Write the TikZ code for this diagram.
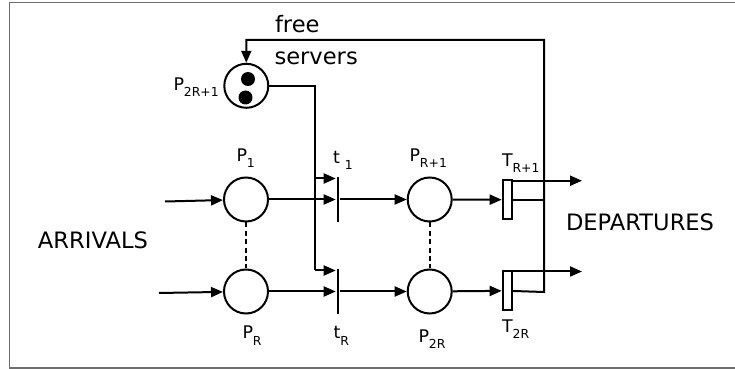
\documentclass[tikz,border=0pt]{standalone}
\usepackage{fontspec}
\setmainfont{DejaVu Sans}
\usetikzlibrary{arrows.meta,calc}

\definecolor{framegray}{HTML}{6E6E6E}
\newcommand{\lbl}[2]{{\fontsize{8.7}{10}\selectfont #1}\raisebox{-3pt}{\fontsize{6.2}{7}\selectfont #2}}

\begin{document}
\begin{tikzpicture}[
    x=0.5pt, y=-0.5pt,
    line width=1pt,
    place/.style={circle, draw, fill=white, minimum size=22pt, inner sep=0pt},
    token/.style={circle, fill=black, minimum size=7pt, inner sep=0pt},
    bar/.style={rectangle, fill=black, minimum width=1pt, minimum height=22.5pt, inner sep=0pt},
    timed/.style={rectangle, draw, fill=white, minimum width=4.5pt, minimum height=19.3pt, inner sep=0pt},
    lab/.style={inner sep=0pt, anchor=base west},
    big/.style={inner sep=0pt, anchor=base west, font=\fontsize{11.3}{13}\selectfont},
    arrow/.style={-{Triangle[length=6pt,width=5pt]}},
    link/.style={dash pattern=on 2.5pt off 1.7pt}
]
\useasboundingbox (0,0) rectangle (735,369);

% Frame
\draw[framegray, line width=0.85pt] (735,2.5) -- (9.5,2.5) -- (9.5,368) -- (735,368);

% Places
\node[place] (pfree) at (246.3,85.8) {};
\node[token] (tok1) at (248,79) {};
\node[token] (tok2) at (245.5,97.5) {};
\node[place] (p1) at (246,199.5) {};
\node[place] (pR) at (246,291.5) {};
\node[place] (pR1) at (429.7,199.5) {};
\node[place] (p2R) at (429.7,291.5) {};

% Transitions
\node[bar] (t1) at (337.7,199.5) {};
\node[bar] (tR) at (337.7,291.5) {};
\node[timed] (T1) at (507.2,199.7) {};
\node[timed] (T2) at (507.2,290.8) {};

% Labels
\node[lab] (pfreelab) at (172.5,91) {\lbl{P}{2R+1}};
\node[lab] (p1lab) at (235.5,162) {\lbl{P}{1}};
\node[lab] (pRlab) at (241.5,339) {\lbl{P}{R}};
\node[lab] (pR1lab) at (408.5,162) {\lbl{P}{R+1}};
\node[lab] (p2Rlab) at (417.5,343) {\lbl{P}{2R}};
\node[lab] (t1lab) at (332,163.3) {\lbl{t\hspace{2.5pt}}{1}};
\node[lab] (tRlab) at (332.5,339) {\lbl{t}{R}};
\node[lab] (T1lab) at (501,166.7) {\lbl{T}{R+1}};
\node[lab] (T2lab) at (501,332.7) {\lbl{T}{2R}};

\node[big] (free) at (274,33) {free};
\node[big] (servers) at (273.5,65) {servers};
\node[big] (arrivals) at (37,249) {ARRIVALS};
\node[big] (departures) at (565,230.7) {DEPARTURES};

% Helper points
\coordinate (in1) at (165,201.5);
\coordinate (inR) at (159,293);
\coordinate (fork) at (315,85.8);
\coordinate (fork1) at (315,178.5);
\coordinate (forkR) at (315,270.5);
\coordinate (back) at (544,292);
\coordinate (backtop) at (544,40);
\coordinate (dep1) at (582,180.7);
\coordinate (dep2) at (582,271.5);

% Arcs
\draw[arrow] (in1) -- (p1);
\draw[arrow] (inR) -- (pR);
\draw[link] (p1) -- (pR);
\draw[link] (pR1) -- (p2R);

\draw[arrow] (p1) -- (t1);
\draw[arrow] (pR) -- (tR);
\draw[arrow] (t1) -- (pR1);
\draw[arrow] (tR) -- (p2R);
\draw[arrow] (pR1) -- (T1);
\draw[arrow] (p2R) -- (T2);

\draw (pfree) -- (fork) -- (forkR);
\draw[arrow] (fork1) -- (fork1 -| t1.west);
\draw[arrow] (forkR) -- (forkR -| tR.west);

\draw[arrow] (T2) -- (back) -- (backtop) -| (pfree);
\draw (T1) -- (T1 -| back);

\draw[arrow] (T1.east |- dep1) -- (dep1);
\draw[arrow] (T2.east |- dep2) -- (dep2);

\end{tikzpicture}
\end{document}
